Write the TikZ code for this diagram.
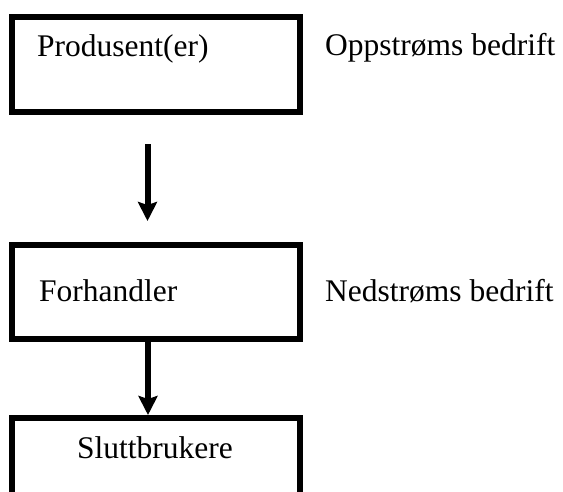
\documentclass[tikz,border=0pt]{standalone}
\usepackage{fontspec}
\setmainfont{Liberation Serif}
\usetikzlibrary{arrows.meta}
\begin{document}
\begin{tikzpicture}[x=1pt,y=-1pt,
  flowbox/.style={draw=black,line width=6pt,rectangle,inner sep=0pt,minimum width=288pt},
  lbl/.style={anchor=base west,inner sep=0pt,font=\fontsize{31.5}{36}\selectfont},
  flowarrow/.style={line width=6pt,-{Stealth[length=19pt,width=19pt,inset=3pt]}}]
\clip (0,0) rectangle (563,491);
\fill[white] (0,0) rectangle (563,491);
\node[flowbox,minimum height=95pt] (prod) at (155.5,64.5) {};
\node[flowbox,minimum height=94pt] (forh) at (155.5,292) {};
\node[flowbox,minimum height=100pt] (slutt) at (155.5,468) {};
\node[lbl] (tprod) at (37,56) {Produsent(er)};
\node[lbl] (tforh) at (39,301) {Forhandler};
\node[lbl] (tslutt) at (77,458) {Sluttbrukere};
\node[lbl] (topp) at (325,55) {Oppstrøms bedrift};
\node[lbl] (tned) at (325,301) {Nedstrøms bedrift};
\coordinate (a1s) at (147.5,144);
\coordinate (a1e) at (147.5,221);
\draw[flowarrow] (a1s) -- (a1e);
\draw[flowarrow] ([xshift=-7.5pt]forh.south) -- ([xshift=-7.5pt]slutt.north);
\end{tikzpicture}
\end{document}
